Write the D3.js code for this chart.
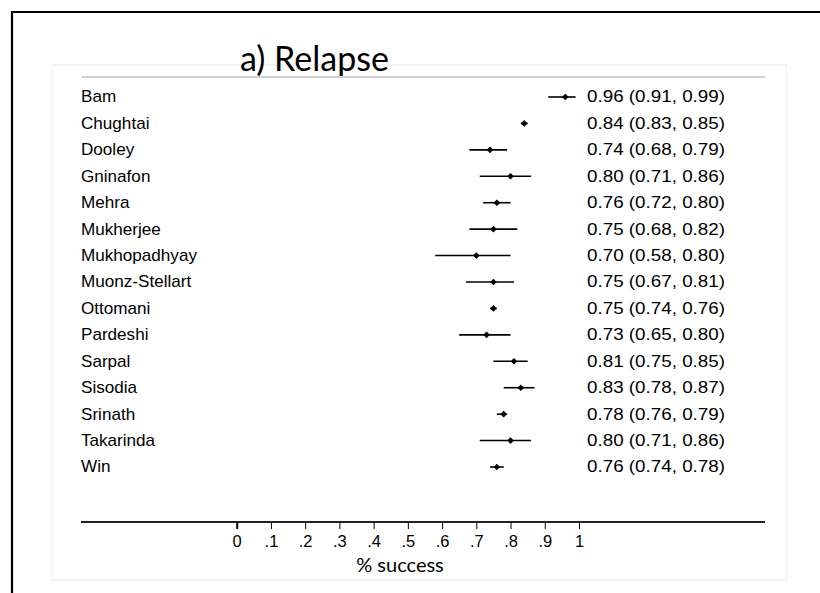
<!DOCTYPE html>
<html>
<head>
<meta charset="utf-8">
<script src="https://cdn.jsdelivr.net/npm/d3@7"></script>
<style>
  html, body { margin: 0; padding: 0; background: #fff; }
  svg { display: block; }
</style>
</head>
<body>
<svg id="chart" width="820" height="593"></svg>
<script>
// ---- data ----
const studies = ["Bam","Chughtai","Dooley","Gninafon","Mehra","Mukherjee","Mukhopadhyay",
  "Muonz-Stellart","Ottomani","Pardeshi","Sarpal","Sisodia","Srinath","Takarinda","Win"];
const estimates = [0.96,0.84,0.74,0.80,0.76,0.75,0.70,0.75,0.75,0.73,0.81,0.83,0.78,0.80,0.76];
const lowerCI  = [0.91,0.83,0.68,0.71,0.72,0.68,0.58,0.67,0.74,0.65,0.75,0.78,0.76,0.71,0.74];
const upperCI  = [0.99,0.85,0.79,0.86,0.80,0.82,0.80,0.81,0.76,0.80,0.85,0.87,0.79,0.86,0.78];
const tickValues = [0,0.1,0.2,0.3,0.4,0.5,0.6,0.7,0.8,0.9,1];
const tickLabels = ["0",".1",".2",".3",".4",".5",".6",".7",".8",".9","1"];
const titleText = "a) Relapse";
const xLabel = "% success";

const rows = studies.map((s, i) => ({study: s, est: estimates[i], lo: lowerCI[i], hi: upperCI[i]}));

const svg = d3.select("#chart");

// outer frame (black lines top & left)
svg.append("line").attr("x1", 11).attr("x2", 820).attr("y1", 12).attr("y2", 12)
  .attr("stroke", "#000").attr("stroke-width", 2.2);
svg.append("line").attr("x1", 12).attr("x2", 12).attr("y1", 11).attr("y2", 593)
  .attr("stroke", "#000").attr("stroke-width", 2.2);

// faint inner panel
svg.append("rect").attr("x", 52.5).attr("y", 65).attr("width", 734).attr("height", 515)
  .attr("fill", "none").attr("stroke", "#edf2f5").attr("stroke-width", 1.5);

// title
svg.append("text").attr("x", 240).attr("y", 71)
  .attr("font-family", "Lato, 'Open Sans', sans-serif").attr("font-size", 34)
  .attr("fill", "#000").text(titleText);

// grey top rule
svg.append("line").attr("x1", 82).attr("x2", 765).attr("y1", 77).attr("y2", 77)
  .attr("stroke", "#cfcfcf").attr("stroke-width", 2);

// scales
const x = d3.scaleLinear().domain([0, 1]).range([236.7, 579]);
const y = d3.scalePoint().domain(studies).range([97, 467]);

// study labels (slightly stretched horizontally like the original)
svg.append("g").attr("transform", "translate(81,0) scale(1.07,1)")
  .selectAll("text").data(rows).join("text")
  .attr("x", 0).attr("y", d => y(d.study) + 5.5)
  .attr("font-family", "'Liberation Sans', Arial, sans-serif").attr("font-size", 16)
  .attr("fill", "#000").text(d => d.study);

// CI lines
svg.append("g").selectAll("line").data(rows).join("line")
  .attr("x1", d => x(d.lo)).attr("x2", d => x(d.hi))
  .attr("y1", d => y(d.study)).attr("y2", d => y(d.study))
  .attr("stroke", "#000").attr("stroke-width", 1.6);

// markers
svg.append("g").selectAll("path").data(rows).join("path")
  .attr("d", d3.symbol(d3.symbolSquare, 22))
  .attr("transform", d => `translate(${x(d.est)},${y(d.study)}) rotate(45)`)
  .attr("fill", "#000");

// value labels
svg.append("g").attr("transform", "translate(587,0) scale(1.14,1)")
  .selectAll("text").data(rows).join("text")
  .attr("x", 0).attr("y", d => y(d.study) + 5.5)
  .attr("font-family", "'Liberation Sans', Arial, sans-serif").attr("font-size", 16.5)
  .attr("fill", "#000")
  .text(d => `${d.est.toFixed(2)} (${d.lo.toFixed(2)}, ${d.hi.toFixed(2)})`);

// x axis
const axisY = 522;
svg.append("line").attr("x1", 81).attr("x2", 765).attr("y1", axisY).attr("y2", axisY)
  .attr("stroke", "#222").attr("stroke-width", 2);
const axis = d3.axisBottom(x).tickValues(tickValues).tickSize(7).tickPadding(6)
  .tickFormat((d, i) => tickLabels[i]);
const ag = svg.append("g").attr("transform", `translate(0,${axisY})`).call(axis);
ag.select(".domain").remove();
ag.selectAll(".tick line").attr("stroke", "#000").attr("stroke-width", (d, i) => i === 0 ? 2 : 1);
ag.selectAll(".tick text").attr("font-family", "'Liberation Sans', Arial, sans-serif")
  .attr("font-size", 16.5).attr("fill", "#000");

svg.append("text").attr("x", 400).attr("y", 572).attr("text-anchor", "middle")
  .attr("font-family", "Lato, 'Open Sans', sans-serif").attr("font-size", 20)
  .attr("fill", "#000").text(xLabel);
</script>
</body>
</html>
